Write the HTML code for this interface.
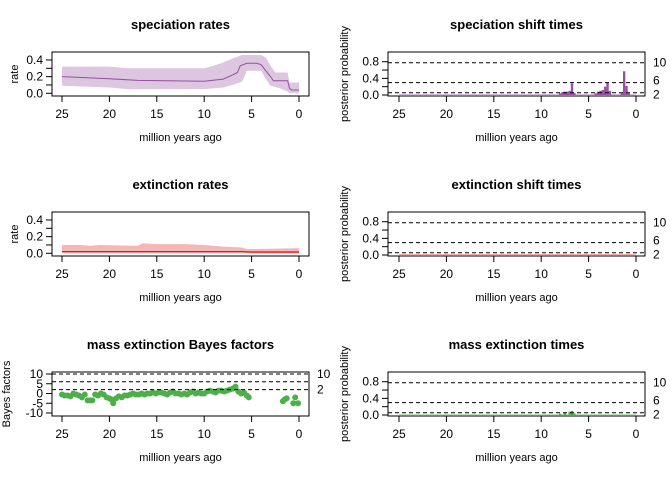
<!DOCTYPE html>
<html><head><meta charset="utf-8"><style>
html,body{margin:0;padding:0;background:#fff;overflow:hidden;}
svg{display:block;font-family:"Liberation Sans",Arial,sans-serif;}
</style></head><body>
<svg id="fig" width="672" height="480" viewBox="0 0 672 480" xmlns="http://www.w3.org/2000/svg"></svg>
<script>
// ---- data ----
const specTimes = [25,20,17,10,8,7,6.5,6.2,5.5,4.5,4,3.5,3,2.7,1.5,1.2,1,0.8,0];
const specMedian = [0.2,0.175,0.155,0.145,0.17,0.22,0.25,0.33,0.36,0.36,0.345,0.27,0.2,0.15,0.15,0.15,0.06,0.04,0.04];
const specUpperT = [25,20,18,10,9,8,7,6,4,3.5,3,2.5,1.2,1,0];
const specUpper = [0.32,0.32,0.30,0.30,0.33,0.37,0.42,0.46,0.46,0.43,0.33,0.25,0.25,0.13,0.13];
const specLowerT = [25,20,18,10,8,7,6,5.5,4,3.5,3,2,1.2,1,0];
const specLower = [0.09,0.07,0.05,0.05,0.07,0.1,0.14,0.27,0.27,0.17,0.09,0.06,0.02,0,0];
const extTimes = [25,23,22,21,17,16.5,15,12,10,8,6,5.5,0.2,0];
const extUpper = [0.1,0.1,0.09,0.1,0.09,0.12,0.11,0.11,0.1,0.08,0.07,0.05,0.06,0.06];
const extMedianT = [25,6,5,0];
const extMedian = [0.02,0.02,0.015,0.015];
const specShiftT = [8,7.75,7.5,7.25,7,6.75,6.5,4.25,4,3.75,3.5,3.25,3,2.75,1.5,1.25,1,0.75];
const specShiftP = [0.04,0.07,0.08,0.08,0.1,0.28,0.05,0.04,0.08,0.1,0.12,0.2,0.3,0.1,0.04,0.57,0.22,0.04];
const extShiftT = [];
const extShiftP = [];
const massTimesT = [8,7.5,7,6.75,6.5];
const massTimesP = [0.03,0.05,0.08,0.1,0.04];
const bfT = [25,24.7,24.4,24.1,23.8,23.5,23.2,22.9,22.6,22.3,22,21.8,21.5,21.2,20.9,20.6,20.3,20,19.8,19.6,19.3,19,18.7,18.4,18.1,17.8,17.5,17.2,16.9,16.6,16.3,16,15.7,15.4,15.1,14.8,14.5,14.2,13.9,13.6,13.3,13,12.7,12.4,12.1,11.8,11.5,11.2,10.9,10.6,10.3,10,9.7,9.4,9.1,8.8,8.5,8.2,7.9,7.6,7.3,7,6.7,6.4,6.1,5.8,5.5,5.3,1.7,1.5,1.3,0.6,0.4,0.1];
const bfV = [-0.5,-1,-1,-1.5,0,-0.5,-1,-2,-0.5,-3.5,-3.5,-3.5,-0.5,-1,0,-0.5,-2,-2.5,-3,-5,-2.5,-1.5,-2,-1,-1,-0.5,0,-0.5,-0.5,0,-0.5,0,0,0.5,0,0.5,0.5,0,-0.5,0.5,1,0,0,-0.5,0,-0.5,0.5,1,0,0.5,0,0,1,1.5,1,0.5,1.5,1.5,1,1.5,2,2.5,3.5,1,0,0.5,-1,-2,-4,-3,-2.5,-5,-2,-5];
const xTicks = [25,20,15,10,5,0];

const NS="http://www.w3.org/2000/svg";
const svg=document.getElementById('fig');
function mk(tag,attrs,parent,txt){const e=document.createElementNS(NS,tag);for(const k in attrs)e.setAttribute(k,attrs[k]);if(txt!==undefined)e.textContent=txt;(parent||svg).appendChild(e);return e;}

function panel(name,col,row,opt){
  const g=mk('g',{});
  
  
  const left=col?388:52,right=col?645:309,top=52+row*160,bot=96+row*160;
  const x0=col?399:62,x1=col?636:299;
  const X=t=>x0+(25-t)*(x1-x0)/25;
  const Y=v=>opt.y0px+row*160-(v-opt.ymin)*opt.scale;
  opt.draw(g,X,Y);
  mk('rect',{x:left,y:top,width:right-left,height:bot-top,fill:'none',stroke:'#000','stroke-width':1},g);
  const xa=mk('g',{},g);
  
  
  mk('line',{x1:X(25),x2:X(0),y1:bot,y2:bot,stroke:'#000'},xa);
  xTicks.forEach(t=>{mk('line',{x1:X(t),x2:X(t),y1:bot,y2:bot+6,stroke:'#000'},xa);
    mk('text',{x:X(t),y:bot+22,'font-size':12,'text-anchor':'middle'},xa,String(t));});
  const xl=mk('text',{x:(left+right)/2,y:bot+45,'font-size':11,'text-anchor':'middle'},g,'million years ago');
  
  
  const ya=mk('g',{},g);
  
  
  mk('line',{x1:left,x2:left,y1:Y(opt.ticks[0]),y2:Y(opt.ticks[opt.ticks.length-1]),stroke:'#000'},ya);
  opt.ticks.forEach((v,i)=>{mk('line',{x1:left-6,x2:left,y1:Y(v),y2:Y(v),stroke:'#000'},ya);
    if(opt.labels[i]!==null)mk('text',{x:left-9,y:Y(v)+4,'font-size':12,'text-anchor':'end'},ya,opt.labels[i]);});
  const yl=mk('text',{x:0,y:0,'font-size':11,'text-anchor':'middle',transform:`translate(${left-opt.ylOff},${(top+bot)/2}) rotate(-90)`},g,opt.ylab);
  
  
  const tt=mk('text',{x:(left+right)/2,y:top-23,'font-size':13,'font-weight':'bold','text-anchor':'middle'},g,opt.title);
  
  
  if(opt.thresh){
    opt.thresh.forEach((v,i)=>{const l=mk('line',{x1:left,x2:right,y1:Y(v),y2:Y(v),stroke:'#000','stroke-dasharray':'4,3'},g);
      
      
      if(opt.tlabels[i]!==null)mk('text',{x:right+8,y:Y(v)+4+(opt.toff?opt.toff[i]:0),'font-size':12},g,opt.tlabels[i]);});
  }
}
function poly(ts,vs,X,Y){return ts.map((t,i)=>X(t)+','+Y(vs[i])).join(' ');}
function stepBand(ut,uv,lt,lv,X,Y){let pts=ut.map((t,i)=>X(t)+','+Y(uv[i]));for(let i=lt.length-1;i>=0;i--)pts.push(X(lt[i])+','+Y(lv[i]));return pts.join(' ');}

const rateOpt={ymin:0,scale:83.3,y0px:93.3,ticks:[0,0.1,0.2,0.3,0.4],labels:['0.0',null,'0.2',null,'0.4'],ylab:'rate',ylOff:34};
const probOpt={ymin:0,scale:41.6,y0px:95,ticks:[0,0.2,0.4,0.6,0.8],labels:['0.0',null,'0.4',null,'0.8'],ylab:'posterior probability',ylOff:40,
  thresh:[0.776,0.296,0.055],tlabels:['10','6','2'],toff:[0,-2,2]};
function bars(ts,ps,col,X,Y,g,nm){
  const base=0.01;
  mk('polygon',{points:[X(25)+','+Y(0),X(25)+','+Y(base),X(0)+','+Y(base),X(0)+','+Y(0)].join(' '),fill:col},g);
  ts.forEach((t,i)=>{const r=mk('rect',{x:X(t+0.125),y:Y(ps[i]),width:X(t-0.125)-X(t+0.125),height:Y(0)-Y(ps[i]),fill:col},g);
    
    });
}

panel('speciation-rates',0,0,Object.assign({},rateOpt,{title:'speciation rates',draw:(g,X,Y)=>{
  const b=mk('polygon',{points:stepBand(specUpperT,specUpper,specLowerT,specLower,X,Y),fill:'#dcc6e0'},g);
  
  
  const l=mk('polyline',{points:poly(specTimes,specMedian,X,Y),fill:'none',stroke:'#984ea3','stroke-width':1},g);
  
  
}}));
panel('speciation-shift-times',1,0,Object.assign({},probOpt,{title:'speciation shift times',draw:(g,X,Y)=>bars(specShiftT,specShiftP,'#984ea3',X,Y,g,'speciation-shift-bar')}));
panel('extinction-rates',0,1,Object.assign({},rateOpt,{title:'extinction rates',draw:(g,X,Y)=>{
  const b=mk('polygon',{points:stepBand(extTimes,extUpper,[25,0],[0,0],X,Y),fill:'#f4b6b6'},g);
  
  
  const l=mk('polyline',{points:poly(extMedianT,extMedian,X,Y),fill:'none',stroke:'#e41a1c','stroke-width':1.3},g);
  
  
}}));
panel('extinction-shift-times',1,1,Object.assign({},probOpt,{title:'extinction shift times',draw:(g,X,Y)=>bars(extShiftT,extShiftP,'#e41a1c',X,Y,g,'extinction-shift-bar')}));
panel('mass-extinction-bayes-factors',0,2,{ymin:0,scale:1.95,y0px:73.5,ticks:[-10,-5,0,5,10],labels:['-10','-5','0','5','10'],ylab:'Bayes factors',ylOff:42,
  thresh:[10,6,2],tlabels:['10',null,'2'],title:'mass extinction Bayes factors',draw:(g,X,Y)=>{
  bfT.forEach((t,i)=>{const c=mk('circle',{cx:X(t),cy:Y(bfV[i]),r:3,fill:'#4daf4a'},g);
    
    });
}});
panel('mass-extinction-times',1,2,Object.assign({},probOpt,{title:'mass extinction times',draw:(g,X,Y)=>bars(massTimesT,massTimesP,'#4daf4a',X,Y,g,'mass-extinction-bar')}));
</script>
</body></html>
